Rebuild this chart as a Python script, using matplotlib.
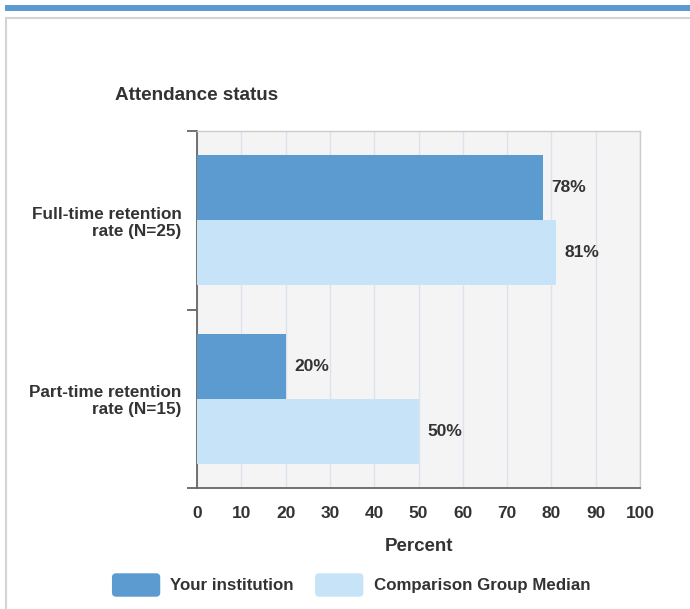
import numpy as np
import matplotlib.pyplot as plt
from matplotlib.patches import FancyBboxPatch, Rectangle
from matplotlib.legend_handler import HandlerPatch
from matplotlib.lines import Line2D

plt.rcParams['font.family'] = ['Liberation Sans', 'DejaVu Sans']

categories = ['Full-time retention\nrate (N=25)', 'Part-time retention\nrate (N=15)']
your_inst = [78, 20]
comparison = [81, 50]
series_names = ['Your institution', 'Comparison Group Median']
xticks = list(range(0, 101, 10))

dark = '#5b9bd0'
light = '#c6e3f7'
txt = '#333333'

fig = plt.figure(figsize=(6.9, 6.09), dpi=100)

# page decoration: blue strip on top, thin gray frame
fig.add_artist(Rectangle((5 / 690, 1 - 11 / 609), 1, 6 / 609, transform=fig.transFigure,
                         color=dark, lw=0))
fig.add_artist(Line2D([6 / 690, 1], [1 - 18 / 609] * 2, transform=fig.transFigure,
                      color='#d4d4d4', lw=1.5))
fig.add_artist(Line2D([6 / 690] * 2, [0, 1 - 18 / 609], transform=fig.transFigure,
                      color='#d4d4d4', lw=1.5))

ax = fig.add_axes([197 / 690, 121 / 609, 443 / 690, 357 / 609])
ax.set_facecolor('#f4f4f4')

y = np.arange(len(categories))
h = 0.364
b1 = ax.barh(y - h / 2, your_inst, height=h, color=dark, zorder=3)
b2 = ax.barh(y + h / 2, comparison, height=h, color=light, zorder=3)

for bars, vals in ((b1, your_inst), (b2, comparison)):
    for bar, v in zip(bars, vals):
        ax.annotate(f'{v}%', (v, bar.get_y() + bar.get_height() / 2),
                    xytext=(6.5, 0), textcoords='offset points', ha='left', va='center',
                    fontsize=12.5, fontweight='bold', color=txt)

ax.set_xlim(0, 100)
ax.set_ylim(1.5, -0.5)
ax.set_xticks(xticks)
ax.set_xticklabels([str(t) for t in xticks], fontsize=12.5, fontweight='bold', color=txt)
ax.tick_params(axis='x', length=0, pad=13)
ax.xaxis.grid(True, color='#dde2ec', lw=1, zorder=1)

ax.set_yticks(y)
ax.set_yticklabels(categories, fontsize=12.3, fontweight='bold', color=txt, linespacing=1.15)
ax.tick_params(axis='y', which='major', length=0, pad=11)
ax.set_yticks([-0.5, 0.5, 1.5], minor=True)
ax.tick_params(axis='y', which='minor', length=7, width=1.3, color='#666666')

for s in ('left', 'bottom'):
    ax.spines[s].set_color('#666666')
    ax.spines[s].set_linewidth(1.3)
for s in ('top', 'right'):
    ax.spines[s].set_color('#cccccc')
    ax.spines[s].set_linewidth(1)

ax.set_xlabel('Percent', fontsize=13.5, fontweight='bold', color=txt, labelpad=12)

fig.text(115 / 690, 1 - 95 / 609, 'Attendance status', fontsize=13.6, fontweight='bold',
         color=txt, va='center', ha='left')


class RoundHandler(HandlerPatch):
    def create_artists(self, legend, orig_handle, xdescent, ydescent, width, height,
                       fontsize, trans):
        p = FancyBboxPatch((-xdescent + 3, -ydescent + 3), width - 6, height - 6,
                           boxstyle='round,pad=3', facecolor=orig_handle.get_facecolor(),
                           edgecolor='none', transform=trans)
        return [p]


leg = fig.legend([b1.patches[0], b2.patches[0]], series_names, loc='center',
                 bbox_to_anchor=(351 / 690, 1 - 585 / 609), ncol=2, frameon=False,
                 handlelength=2.85, handleheight=1.75, handletextpad=0.6, columnspacing=1.25,
                 prop={'size': 12.2, 'weight': 'bold'},
                 handler_map={Rectangle: RoundHandler()})
for t in leg.get_texts():
    t.set_color(txt)

fig.savefig('out.png', dpi=100)
